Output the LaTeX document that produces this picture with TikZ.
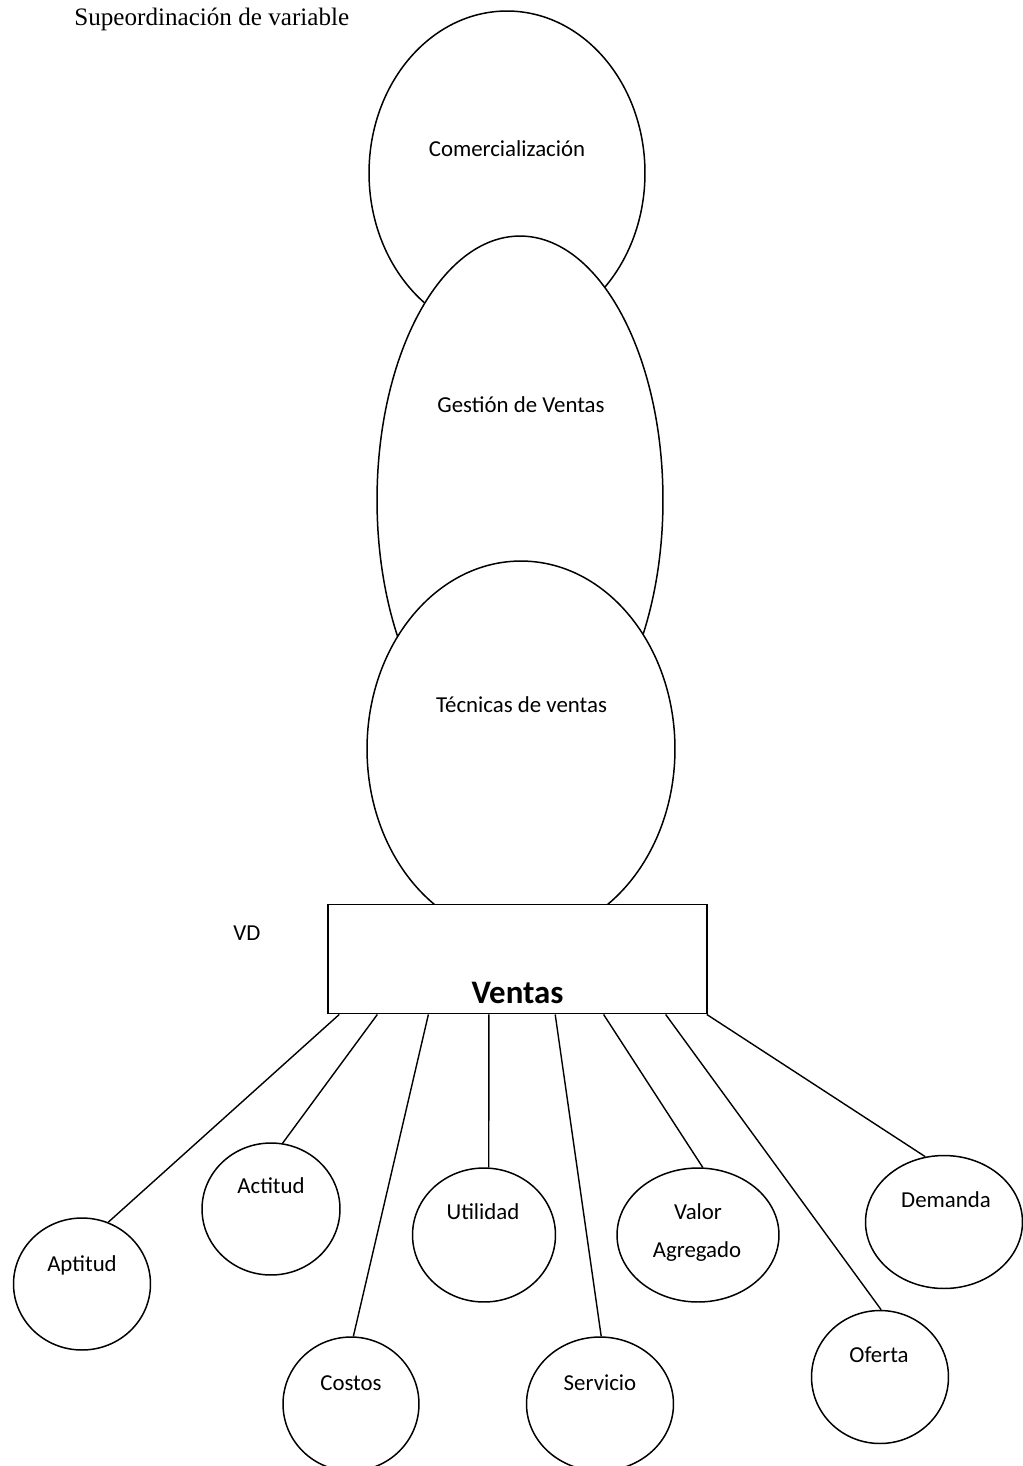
\documentclass[tikz,border=0pt]{standalone}
\usepackage{fontspec}
\setmainfont{Carlito}
\newfontfamily\serifttl{Liberation Serif}
\usetikzlibrary{shapes.geometric,calc}
\begin{document}
\begin{tikzpicture}[x=0.02cm,y=-0.02cm,
  bigell/.style={ellipse, draw, fill=white, inner sep=0pt, line width=0.85pt},
  smallell/.style={ellipse, draw, fill=white, inner sep=0pt, line width=0.85pt},
  boxnode/.style={rectangle, draw, fill=white, inner sep=0pt, line width=1.1pt},
  lbl/.style={font=\fontsize{13}{15}\selectfont, inner sep=0pt, anchor=base},
  conn/.style={line width=0.8pt}]
\useasboundingbox (0,0) rectangle (1023,1466);
\fill[white] (0,0) rectangle (1023,1466);

% title
\node[inner sep=0pt, anchor=base west, font=\serifttl\fontsize{14.3}{16}\selectfont] (title) at (74,26) {Supeordinación de variable};

% big ellipses
\node[bigell, minimum width=5.52cm, minimum height=6.48cm] (com) at (507,173) {};
\node[bigell, minimum width=5.72cm, minimum height=10.56cm] (ges) at (520,500) {};
\node[bigell, minimum width=6.16cm, minimum height=7.52cm] (tec) at (521,749) {};
\node[lbl] (tcom) at (507,157) {Comercialización};
\node[lbl] (tges) at (521,412) {Gestión de Ventas};
\node[lbl] (ttec) at (521.5,712) {Técnicas de ventas};

% rectangle
\node[boxnode, minimum width=7.58cm, minimum height=2.18cm] (V) at (517.5,959) {};
\node[inner sep=0pt, anchor=base, font=\bfseries\fontsize{18.7}{22}\selectfont] (tV) at (517.5,1003) {Ventas};
\node[lbl] (vd) at (247,940) {VD};

% small circles
\node[smallell, minimum width=2.74cm, minimum height=2.64cm] (apt) at (82,1284) {};
\node[smallell, minimum width=2.76cm, minimum height=2.64cm] (act) at (271,1209) {};
\node[smallell, minimum width=2.72cm, minimum height=2.68cm] (cos) at (351,1404) {};
\node[smallell, minimum width=2.86cm, minimum height=2.68cm] (uti) at (484,1235) {};
\node[smallell, minimum width=2.94cm, minimum height=2.68cm] (ser) at (600,1404) {};
\node[smallell, minimum width=3.24cm, minimum height=2.68cm] (val) at (698,1235) {};
\node[smallell, minimum width=2.74cm, minimum height=2.66cm] (ofe) at (880,1377) {};
\node[smallell, minimum width=3.14cm, minimum height=2.66cm] (dem) at (944,1222) {};

\node[lbl] (tapt) at (82,1271) {Aptitud};
\node[lbl] (tact) at (271,1193) {Actitud};
\node[lbl] (tcos) at (351,1390) {Costos};
\node[lbl] (tuti) at (483,1219) {Utilidad};
\node[lbl] (tser) at (600,1390) {Servicio};
\node[lbl] (tval1) at (698,1219) {Valor};
\node[lbl] (tval2) at (697,1257) {Agregado};
\node[lbl] (tofe) at (879,1362) {Oferta};
\node[lbl] (tdem) at (946,1207) {Demanda};

% connectors
\draw[conn] ($(V.south west)!0.032!(V.south east)$) -- (apt.67);
\draw[conn] ($(V.south west)!0.132!(V.south east)$) -- (act.80);
\draw[conn] ($(V.south west)!0.266!(V.south east)$) -- (cos.88);
\draw[conn] ($(V.south west)!0.425!(V.south east)$) -- (uti.86);
\draw[conn] ($(V.south west)!0.599!(V.south east)$) -- (ser.89);
\draw[conn] ($(V.south west)!0.726!(V.south east)$) -- (val.86);
\draw[conn] ($(V.south west)!0.889!(V.south east)$) -- (ofe.89);
\draw[conn] ($(V.south west)!0.997!(V.south east)$) -- (dem.106);
\end{tikzpicture}
\end{document}
